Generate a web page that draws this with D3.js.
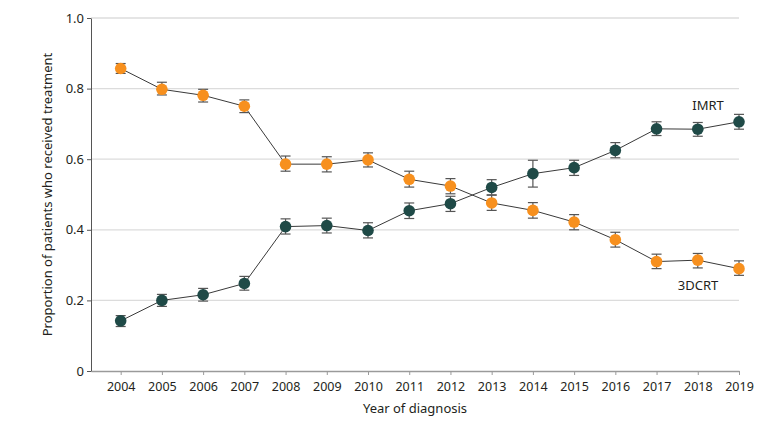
<!DOCTYPE html>
<html>
<head>
<meta charset="utf-8">
<script src="https://cdn.jsdelivr.net/npm/d3@7"></script>
<style>
  body { margin: 0; background: #fff; }
  text { font-family: "Noto Sans", "Open Sans", sans-serif; fill: #231f20; }
</style>
</head>
<body>
<div id="chart"></div>
<script>
// years on the x axis
const years = [2004, 2005, 2006, 2007, 2008, 2009, 2010, 2011, 2012, 2013, 2014, 2015, 2016, 2017, 2018, 2019];

// 3DCRT proportions and 95% CI
const crtValue = [0.857, 0.798, 0.781, 0.750, 0.586, 0.586, 0.598, 0.543, 0.524, 0.476, 0.455, 0.422, 0.372, 0.310, 0.314, 0.290];
const crtLow   = [0.843, 0.782, 0.762, 0.732, 0.566, 0.564, 0.578, 0.521, 0.502, 0.455, 0.433, 0.400, 0.351, 0.290, 0.292, 0.271];
const crtHigh  = [0.871, 0.818, 0.798, 0.768, 0.609, 0.607, 0.618, 0.566, 0.545, 0.498, 0.477, 0.443, 0.393, 0.331, 0.333, 0.312];

// IMRT proportions and 95% CI
const imrtValue = [0.142, 0.200, 0.216, 0.248, 0.409, 0.412, 0.398, 0.454, 0.474, 0.520, 0.559, 0.576, 0.625, 0.686, 0.685, 0.706];
const imrtLow   = [0.126, 0.183, 0.198, 0.229, 0.388, 0.391, 0.377, 0.432, 0.452, 0.499, 0.521, 0.554, 0.604, 0.667, 0.665, 0.685];
const imrtHigh  = [0.157, 0.217, 0.234, 0.268, 0.431, 0.433, 0.420, 0.476, 0.495, 0.542, 0.597, 0.597, 0.647, 0.706, 0.704, 0.727];

const yTicks = [0, 0.2, 0.4, 0.6, 0.8, 1.0];

const svgWidth = 783, svgHeight = 426;
const svg = d3.select('#chart')
  .append('svg')
  .attr('width', svgWidth)
  .attr('height', svgHeight);

const plotLeft = 91, plotRight = 739, plotTop = 18, plotBottom = 371;

// x domain starts a bit before 2004 so the axis line reaches the y axis
const x = d3.scaleLinear()
  .domain([2003.28, 2019])
  .range([plotLeft, plotRight]);

const y = d3.scaleLinear()
  .domain([0, 1])
  .range([plotBottom, plotTop]);

// grid lines
svg.append('g')
  .selectAll('line')
  .data(yTicks.filter(d => d > 0))
  .enter()
  .append('line')
  .attr('x1', plotLeft)
  .attr('x2', plotRight)
  .attr('y1', d => y(d))
  .attr('y2', d => y(d))
  .attr('stroke', '#dcdcdc')
  .attr('stroke-width', 1.3);

// X - Axis
const xAxis = svg.append('g')
  .attr('transform', 'translate(0,' + plotBottom + ')')
  .call(d3.axisBottom(x).tickValues(years).tickFormat(d3.format('d')).tickSize(4).tickSizeOuter(0));
xAxis.select('.domain').attr('stroke', '#9a9a9a').attr('stroke-width', 1.3);
xAxis.selectAll('.tick line').attr('stroke', '#9a9a9a');
xAxis.selectAll('text').attr('font-size', 12.5).attr('dy', '1.05em');

// Y - Axis
const yAxis = svg.append('g')
  .attr('transform', 'translate(' + plotLeft + ',0)')
  .call(d3.axisLeft(y).tickValues(yTicks)
    .tickFormat(d => d === 0 ? '0' : d3.format('.1f')(d))
    .tickSize(4).tickSizeOuter(0));
yAxis.select('.domain').attr('stroke', '#555');
yAxis.selectAll('.tick line').attr('stroke', '#555');
yAxis.selectAll('text').attr('font-size', 13).attr('x', -7);

// axis titles
svg.append('text')
  .attr('x', (plotLeft + plotRight) / 2)
  .attr('y', 413)
  .attr('text-anchor', 'middle')
  .attr('font-size', 13)
  .text('Year of diagnosis');

svg.append('text')
  .attr('transform', 'translate(52,' + (plotTop + plotBottom) / 2 + ') rotate(-90)')
  .attr('text-anchor', 'middle')
  .attr('font-size', 13)
  .text('Proportion of patients who received treatment');

const series = [
  { name: 'IMRT', value: imrtValue, low: imrtLow, high: imrtHigh, color: '#1f4a47' },
  { name: '3DCRT', value: crtValue, low: crtLow, high: crtHigh, color: '#f7901e' }
];

const line = d3.line()
  .x(d => x(d.year))
  .y(d => y(d.v));

series.forEach(s => {
  const pts = years.map((yr, i) => ({ year: yr, v: s.value[i], lo: s.low[i], hi: s.high[i] }));

  svg.append('path')
    .datum(pts)
    .attr('fill', 'none')
    .attr('stroke', '#3a3a3a')
    .attr('stroke-width', 1)
    .attr('d', line);

  const bars = svg.append('g').selectAll('g')
    .data(pts)
    .enter()
    .append('g')
    .attr('stroke', '#555')
    .attr('stroke-width', 1.2);

  bars.append('line')
    .attr('x1', d => x(d.year)).attr('x2', d => x(d.year))
    .attr('y1', d => y(d.lo)).attr('y2', d => y(d.hi));
  bars.append('line')
    .attr('x1', d => x(d.year) - 5).attr('x2', d => x(d.year) + 5)
    .attr('y1', d => y(d.lo)).attr('y2', d => y(d.lo));
  bars.append('line')
    .attr('x1', d => x(d.year) - 5).attr('x2', d => x(d.year) + 5)
    .attr('y1', d => y(d.hi)).attr('y2', d => y(d.hi));

  svg.append('g').selectAll('circle')
    .data(pts)
    .enter()
    .append('circle')
    .attr('cx', d => x(d.year))
    .attr('cy', d => y(d.v))
    .attr('r', 5.8)
    .attr('fill', s.color);
});

// series labels
svg.append('text')
  .attr('x', 708)
  .attr('y', 110)
  .attr('text-anchor', 'middle')
  .attr('font-size', 13)
  .text('IMRT');

svg.append('text')
  .attr('x', 698)
  .attr('y', 290)
  .attr('text-anchor', 'middle')
  .attr('font-size', 13)
  .text('3DCRT');
</script>
</body>
</html>
